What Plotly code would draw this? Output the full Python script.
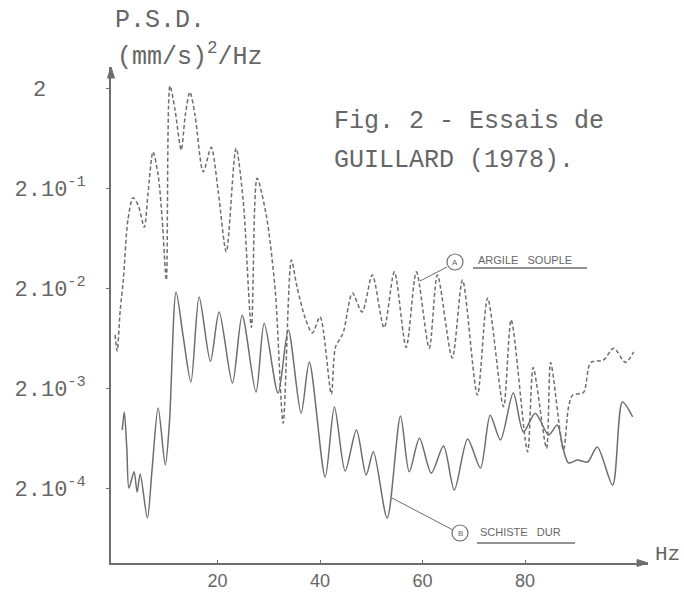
import plotly.graph_objects as go

# ---- data ----
hz_a = [0.0, 0.4, 1.0, 1.6, 2.5, 3.5, 4.5, 5.7, 6.4, 7.4, 8.4, 9.2, 10.0, 10.7, 11.7,
        12.9, 13.7, 14.6, 15.6, 17.2, 18.75, 20.1, 21.7, 23.6, 25.0, 26.6, 27.7, 29.5,
        31.25, 32.8, 34.4, 35.5, 37.1, 38.5, 40.0, 42.2, 43.0, 44.5, 46.3, 48.2, 50.2,
        52.5, 54.5, 56.8, 58.8, 61.3, 62.9, 65.8, 67.8, 70.7, 72.7, 75.8, 77.3, 80.5,
        81.6, 84.2, 85.0, 87.5, 88.5, 89.3, 91.4, 92.8, 95.3, 97.3, 99.6, 101.2]
psd_a = [6.8e-3, 4.7e-3, 1.2e-2, 2.4e-2, 9.6e-2, 0.16, 0.135, 0.081, 0.17, 0.46, 0.27,
         0.096, 0.024, 2.1, 1.2, 0.48, 1.07, 1.82, 1.07, 0.29, 0.51, 0.19, 0.046, 0.50,
         0.15, 8.1e-3, 0.25, 0.107, 0.019, 8.9e-4, 0.038, 0.0205, 0.010, 7.1e-3, 0.0103,
         1.74e-3, 5.1e-3, 7.1e-3, 0.0178, 0.0115, 0.027, 8.0e-3, 0.029, 5.1e-3, 0.029,
         5.0e-3, 0.027, 4.0e-3, 0.024, 1.7e-3, 0.0159, 1.3e-3, 9.6e-3, 4.6e-4, 3.2e-3,
         5.0e-4, 3.6e-3, 4.8e-4, 1.3e-3, 1.7e-3, 1.8e-3, 3.6e-3, 3.8e-3, 5.0e-3, 3.6e-3,
         4.6e-3]

hz_b = [1.4, 1.8, 2.3, 2.7, 3.7, 4.3, 4.9, 6.3, 7.2, 8.4, 9.8, 10.6, 11.9, 13.3, 14.8,
        16.4, 18.6, 20.3, 22.9, 24.8, 27.5, 29.1, 31.8, 33.8, 36.3, 37.9, 41.0, 42.8,
        44.9, 47.1, 49.0, 50.4, 53.1, 55.7, 57.4, 59.4, 61.7, 64.1, 66.2, 68.8, 71.3,
        73.2, 75.2, 77.7, 79.7, 82.0, 84.6, 86.3, 87.5, 88.5, 90.2, 92.2, 94.1, 97.1,
        99.0, 101.0]
psd_b = [7.6e-4, 1.15e-3, 4.8e-4, 2.0e-4, 2.9e-4, 1.82e-4, 2.76e-4, 1.0e-4, 3.0e-4,
         1.26e-3, 3.4e-4, 8.9e-4, 1.82e-2, 6.5e-3, 2.3e-3, 1.63e-2, 3.7e-3, 1.15e-2,
         2.24e-3, 1.07e-2, 1.82e-3, 8.9e-3, 1.78e-3, 7.6e-3, 1.12e-3, 3.64e-3, 2.58e-4,
         1.29e-3, 2.96e-4, 7.6e-4, 2.7e-4, 4.6e-4, 1.0e-4, 1.05e-3, 2.9e-4, 6.3e-4,
         2.82e-4, 5.26e-4, 1.91e-4, 6.18e-4, 3.17e-4, 1.07e-3, 6.04e-4, 1.78e-3, 7.26e-4,
         1.12e-3, 6.78e-4, 8.53e-4, 4.8e-4, 3.56e-4, 3.81e-4, 3.64e-4, 5.14e-4, 2.14e-4,
         1.45e-3, 1.03e-3]

y_tickvals = [2, 0.2, 0.02, 0.002, 0.0002]
y_ticktext = ["2\u00a0\u00a0\u00a0", "2.10<sup>-1</sup>", "2.10<sup>-2</sup>",
              "2.10<sup>-3</sup>", "2.10<sup>-4</sup>"]
x_tickvals = [20, 40, 60, 80]
x_ticktext = ["20", "40", "60", "80"]

label_a = "ARGILE\u00a0\u00a0\u00a0SOUPLE"
label_b = "SCHISTE\u00a0\u00a0\u00a0DUR"

# ---- layout geometry ----
W, H = 684, 594
L, R, T, B = 111, 36, 67, 31
pw, ph = W - L - R, H - T - B


def px(x):
    return (x - L) / pw


def py(y):
    return (H - B - y) / ph


INK = "#6e6e6e"
TXT = "#666666"
MONO = "Courier New, Liberation Mono, monospace"
SANS = "Liberation Sans, Arial, sans-serif"

fig = go.Figure()
fig.add_trace(go.Scatter(x=hz_a, y=psd_a, mode="lines", name="A",
                         line=dict(color=INK, width=1.5, dash="4px,2.5px", shape="spline",
                                   smoothing=0.8)))
fig.add_trace(go.Scatter(x=hz_b, y=psd_b, mode="lines", name="B",
                         line=dict(color=INK, width=1.5, shape="spline", smoothing=0.8)))

ann = []
ann.append(dict(text="P.S.D.", x=px(113), y=py(21), xanchor="left", yanchor="middle",
                font=dict(family=MONO, size=25, color=TXT)))
ann.append(dict(text="(mm/s)<sup>2</sup>/Hz", x=px(115), y=py(55), xanchor="left",
                yanchor="middle", font=dict(family=MONO, size=25, color=TXT)))
ann.append(dict(text="Fig. 2 - Essais de", x=px(332), y=py(122), xanchor="left",
                yanchor="middle", font=dict(family=MONO, size=25, color=TXT)))
ann.append(dict(text="GUILLARD (1978).", x=px(332), y=py(160), xanchor="left",
                yanchor="middle", font=dict(family=MONO, size=25, color=TXT)))
ann.append(dict(text="Hz", x=px(653), y=py(554), xanchor="left", yanchor="middle",
                font=dict(family=MONO, size=21, color=TXT)))
ann.append(dict(text=label_a, x=px(476), y=py(260), xanchor="left", yanchor="middle",
                font=dict(family=SANS, size=11, color=TXT)))
ann.append(dict(text=label_b, x=px(478), y=py(532), xanchor="left", yanchor="middle",
                font=dict(family=SANS, size=11, color=TXT)))
ann.append(dict(text="A", x=px(455), y=py(262), xanchor="center", yanchor="middle",
                font=dict(family=SANS, size=8, color=TXT)))
ann.append(dict(text="B", x=px(460), y=py(533), xanchor="center", yanchor="middle",
                font=dict(family=SANS, size=8, color=TXT)))
for a in ann:
    a["xref"] = "paper"
    a["yref"] = "paper"
    a["showarrow"] = False

shapes = []
r = 8
for cx, cy in [(455, 262), (460, 533)]:
    shapes.append(dict(type="circle", xref="paper", yref="paper",
                       x0=px(cx - r), x1=px(cx + r), y0=py(cy + r), y1=py(cy - r),
                       line=dict(color=INK, width=1.2)))
for (x0, y0, x1, y1, w) in [(447, 267, 420, 281, 1.0), (453, 530, 392, 498, 1.0),
                            (473, 268, 587, 268, 1.5), (477, 543, 575, 543, 1.5)]:
    shapes.append(dict(type="line", xref="paper", yref="paper", x0=px(x0), y0=py(y0),
                       x1=px(x1), y1=py(y1), line=dict(color=INK, width=w)))

# arrowheads at the ends of the axes
ytip = (L, T)
xtip = (W - R, H - B)
path_y = "M {:.5f},{:.5f} L {:.5f},{:.5f} L {:.5f},{:.5f} Z".format(
    px(ytip[0] - 3.5), py(ytip[1] + 11), px(ytip[0]), py(ytip[1]),
    px(ytip[0] + 3.5), py(ytip[1] + 11))
path_x = "M {:.5f},{:.5f} L {:.5f},{:.5f} L {:.5f},{:.5f} Z".format(
    px(xtip[0] - 11), py(xtip[1] - 3.5), px(xtip[0]), py(xtip[1]),
    px(xtip[0] - 11), py(xtip[1] + 3.5))
for p in (path_y, path_x):
    shapes.append(dict(type="path", xref="paper", yref="paper", path=p,
                       fillcolor=INK, line=dict(color=INK, width=1)))

fig.update_layout(
    width=W, height=H, template="none",
    margin=dict(l=L, r=R, t=T, b=B, pad=0),
    paper_bgcolor="white", plot_bgcolor="white",
    showlegend=False,
    annotations=ann, shapes=shapes,
    xaxis=dict(range=[-0.8, 104], showgrid=False, zeroline=False, showline=True,
               linecolor=INK, linewidth=1.5, ticks="inside", ticklen=3, tickcolor=INK,
               tickvals=x_tickvals, ticktext=x_ticktext, automargin=False,
               tickfont=dict(family=SANS, size=18, color=TXT), ticklabelstandoff=1),
    yaxis=dict(type="log", range=[-4.449, 0.511], showgrid=False, zeroline=False,
               showline=True, linecolor=INK, linewidth=1.5, ticks="outside", ticklen=3,
               tickcolor=INK, tickvals=y_tickvals, ticktext=y_ticktext, automargin=False,
               tickfont=dict(family=MONO, size=22, color=TXT), ticklabelstandoff=16),
)

fig.write_html("out.html")
